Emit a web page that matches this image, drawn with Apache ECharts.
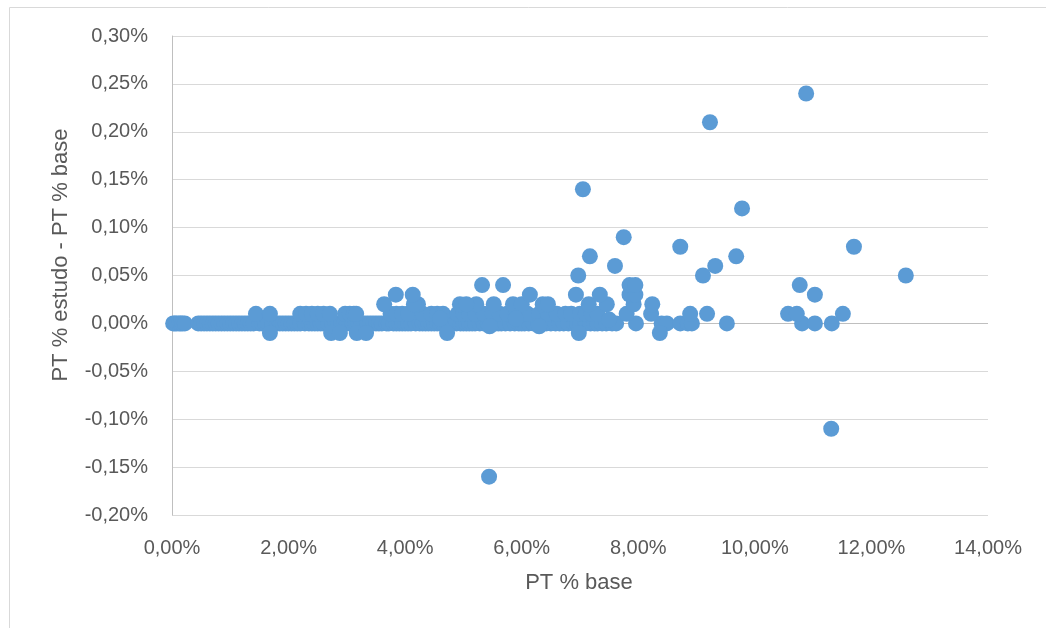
<!DOCTYPE html>
<html><head><meta charset="utf-8">
<script src="https://cdn.jsdelivr.net/npm/echarts@6/dist/echarts.min.js"></script>
<style>html,body{margin:0;padding:0;background:#fff}#c{width:1046px;height:628px}</style>
</head><body><div id="c"></div>
<script>
// values in percent units
const zeroX = [0.02,0.05,0.08,0.12,0.15,0.18,0.22,0.45,0.5,0.55,0.6,0.65,0.7,0.75,0.8,0.85,0.9,0.95,1.0,1.05,1.1,1.15,1.2,1.25,1.3,1.35,1.4,1.5,1.55,1.6,1.65,1.72,1.8,1.85,1.9,1.95,2.0,2.05,2.1,2.15,2.2,2.28,2.35,2.4,2.45,2.5,2.55,2.6,2.68,2.75,2.8,2.85,2.9,2.95,3.0,3.05,3.1,3.15,3.2,3.25,3.3,3.35,3.4,3.45,3.5,3.55,3.6,3.68,3.72,3.8,3.85,3.9,3.95,4.0,4.05,4.1,4.18,4.25,4.3,4.35,4.4,4.45,4.5,4.55,4.6,4.65,4.72,4.78,4.82,4.88,4.95,5.0,5.05,5.1,5.15,5.2,5.28,5.35,5.42,5.48,5.55,5.6,5.65,5.72,5.8,5.88,5.95,6.0,6.05,6.12,6.2,6.28,6.35,6.42,6.5,6.58,6.65,6.72,6.8,6.9,6.95,7.0,7.1,7.18,7.25,7.3,7.38,7.45,7.55,7.62,7.96,8.4,8.49,8.72,8.85,8.92,9.52,10.81,11.03,11.32];
const plus1X = [1.44,1.68,2.2,2.3,2.4,2.5,2.6,2.71,2.97,3.05,3.12,3.16,3.75,3.85,3.95,4.05,4.3,4.45,4.55,4.65,4.9,5.0,5.1,5.2,5.35,5.5,5.62,5.75,5.9,6.0,6.1,6.3,6.45,6.6,6.75,6.85,7.0,7.1,7.2,7.3,7.8,8.22,8.89,9.18,10.57,10.72,11.51];
const plus2X = [3.64,4.22,4.94,5.22,5.52,5.85,6.36,6.45,7.15,7.46,7.92,8.24,4.15,5.05,6.0];
const plus3X = [3.84,4.13,6.14,6.93,7.34,7.85,7.95,11.03];
const plus4X = [5.32,5.68,7.85,7.95,10.77];
const minus1X = [1.68,2.73,2.88,3.17,3.33,4.72,6.98,8.37];
const otherX = [5.44,7.05,9.23,10.88,11.31,9.78,8.72,7.75,7.17,7.6,9.32,9.68,9.11,6.97,11.7,12.59,5.45,5.9,6.3,4.6,7.5];
const otherY = [-0.16,0.14,0.21,0.24,-0.11,0.12,0.08,0.09,0.07,0.06,0.06,0.07,0.05,0.05,0.08,0.05,-0.003,0.005,-0.003,0.005,0.004];
const yTicks = [-0.2,-0.15,-0.1,-0.05,0,0.05,0.1,0.15,0.2,0.25,0.3];
const xTitle = 'PT % base';
const yTitle = 'PT % estudo - PT % base';

const pts = [];
zeroX.forEach(x=>pts.push([x,0]));
plus1X.forEach(x=>pts.push([x,0.01]));
plus2X.forEach(x=>pts.push([x,0.02]));
plus3X.forEach(x=>pts.push([x,0.03]));
plus4X.forEach(x=>pts.push([x,0.04]));
minus1X.forEach(x=>pts.push([x,-0.01]));
otherX.forEach((x,i)=>pts.push([x,otherY[i]]));

const fmt = v => v.toFixed(2).replace('.',',') + '%';
const font = 'Liberation Sans';
const chart = echarts.init(document.getElementById('c'));
chart.setOption({
  animation:false,
  graphic:[
    {type:'rect',shape:{x:9.5,y:7.5,width:1060,height:640},style:{fill:'none',stroke:'#d9d9d9',lineWidth:1}},
    {type:'text',x:579,y:583,style:{text:xTitle,fill:'#595959',font:'22px "Liberation Sans"',textAlign:'center',textVerticalAlign:'middle'}},
    {type:'text',x:61,y:255,rotation:Math.PI/2,style:{text:yTitle,fill:'#595959',font:'22px "Liberation Sans"',textAlign:'center',textVerticalAlign:'middle'}}
  ],
  grid:{left:172,right:58,top:36,bottom:113},
  xAxis:{type:'value',min:0,max:14,interval:2,
    axisLine:{show:false},axisTick:{show:false},splitLine:{show:false},
    axisLabel:{formatter:fmt,color:'#595959',fontSize:20,fontFamily:font,margin:23}},
  yAxis:{type:'value',min:-0.2,max:0.3,interval:0.05,
    axisLine:{show:true,lineStyle:{color:'#bfbfbf',width:1}},axisTick:{show:false},
    splitLine:{show:true,lineStyle:{color:yTicks.map(t=>t===0?'#bfbfbf':'#d9d9d9'),width:1}},
    axisLabel:{formatter:fmt,color:'#595959',fontSize:20,fontFamily:font,margin:24}},
  series:[{type:'scatter',data:pts,symbolSize:16,itemStyle:{color:'#5b9bd5',opacity:1}}]
});
</script></body></html>
